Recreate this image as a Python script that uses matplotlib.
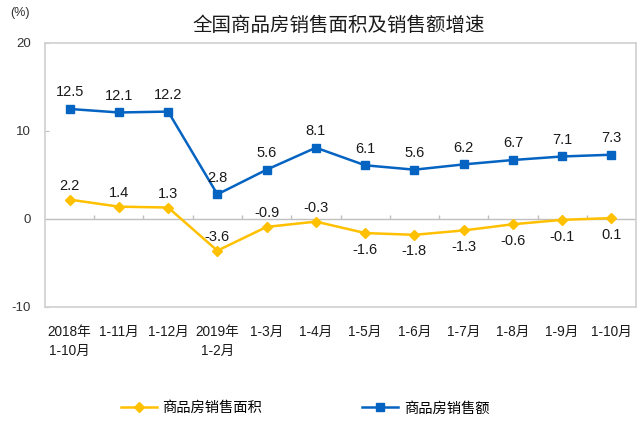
import numpy as np
import matplotlib
matplotlib.use("Agg")
import matplotlib.pyplot as plt

plt.rcParams['font.family'] = ['Liberation Sans', 'Noto Sans CJK SC', 'DejaVu Sans']

# chart data
categories = ['2018年\n1-10月', '1-11月', '1-12月', '2019年\n1-2月', '1-3月', '1-4月',
              '1-5月', '1-6月', '1-7月', '1-8月', '1-9月', '1-10月']
salesArea = [2.2, 1.4, 1.3, -3.6, -0.9, -0.3, -1.6, -1.8, -1.3, -0.6, -0.1, 0.1]
salesValue = [12.5, 12.1, 12.2, 2.8, 5.6, 8.1, 6.1, 5.6, 6.2, 6.7, 7.1, 7.3]
yTicks = [-10, 0, 10, 20]

# which area labels sit above the point (rest go below)
areaLabelAbove = [True, True, True, True, True, True, False, False, False, False, False, False]

blue = '#0563C1'
yellow = '#FFC000'
frameGray = '#D0D0D0'

fig = plt.figure(figsize=(6.4, 4.21), dpi=100)
ax = fig.add_axes([0.0703, 0.2708, 0.9235, 0.6272])

xPos = np.arange(len(categories))

ax.axhline(0, color='#BFBFBF', lw=1.0, zorder=1)
# little tick marks on the zero line between categories
ax.vlines(np.arange(1, len(categories)) - 0.5, 0, 0.45, color='#BFBFBF', lw=1.0, zorder=1)

ax.plot(xPos, salesArea, color=yellow, lw=1.8, marker='D', markersize=5.5, zorder=3,
        label='商品房销售面积')
ax.plot(xPos, salesValue, color=blue, lw=1.8, marker='s', markersize=5.5, zorder=3,
        label='商品房销售额')

for i, v in enumerate(salesValue):
    ax.annotate(f'{v:.1f}', (xPos[i], v), xytext=(0, 12), textcoords='offset points',
                ha='center', va='center', fontsize=10.5, color='#1a1a1a')

for i, v in enumerate(salesArea):
    dy = 10 if areaLabelAbove[i] else -12
    ax.annotate(f'{v:.1f}', (xPos[i], v), xytext=(0, dy), textcoords='offset points',
                ha='center', va='center', fontsize=10.5, color='#1a1a1a')

ax.set_xlim(-0.5, len(categories) - 0.5)
ax.set_ylim(-10, 20)
ax.set_yticks(yTicks)
ax.set_yticklabels([str(t) for t in yTicks], fontsize=9.5, color='#333333')
ax.tick_params(axis='y', direction='in', length=3, color='#BFBFBF', pad=10)
ax.set_xticks(xPos)
ax.set_xticklabels(categories, fontsize=9.8, color='#1a1a1a', linespacing=1.45)
ax.tick_params(axis='x', length=0, pad=13)
for lbl in ax.get_xticklabels():
    lbl.set_verticalalignment('top')

for s in ax.spines.values():
    s.set_color(frameGray)
    s.set_linewidth(1.2)

fig.text(0.53, 0.938, '全国商品房销售面积及销售额增速', ha='center', va='center',
         fontsize=14, color='#1a1a1a')
fig.text(0.016, 0.968, '(%)', ha='left', va='center', fontsize=9, color='#333333')

fig.legend(loc='center', bbox_to_anchor=(0.477, 0.03), ncol=2, frameon=False,
           fontsize=10.3, handlelength=2.5, columnspacing=7.0, handletextpad=0.4)

fig.savefig('out.png', dpi=100)
